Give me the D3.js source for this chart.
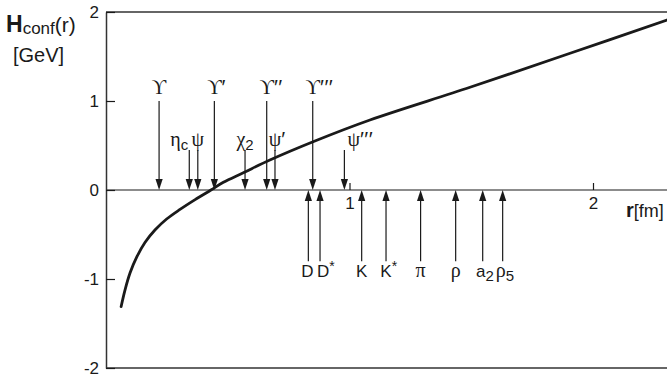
<!DOCTYPE html>
<html>
<head>
<meta charset="utf-8">
<script src="https://cdn.jsdelivr.net/npm/d3@7"></script>
<style>
  html, body { margin: 0; padding: 0; background: #fff; }
  svg { display: block; }
</style>
</head>
<body>
<div id="chart"></div>
<script>
// Confining potential H_conf(r) with hadron radii marked along the r axis.

// Potential curve, r in fm, H in GeV
const curveR = [0.062, 0.078, 0.099, 0.126, 0.160, 0.201, 0.249, 0.304, 0.366, 0.431,
                0.482, 0.564, 0.673, 0.858, 1.084, 1.495, 1.906, 2.304];
const curveH = [-1.311, -1.124, -0.93, -0.755, -0.59, -0.45, -0.326, -0.218, -0.108, 0.0,
                0.087, 0.194, 0.337, 0.551, 0.787, 1.154, 1.536, 1.910];

// Heavy quarkonia (arrows from above), radius in fm
const quarkonia  = ["ϒ", "η_c", "ψ", "ϒ′", "χ_2", "ϒ′′", "ψ′", "ϒ′′′", "ψ′′′"];
const quarkoniaR = [0.218, 0.342, 0.377, 0.445, 0.571, 0.660, 0.694, 0.849, 0.979];

// Open-flavour and light mesons (arrows from below), radius in fm
const mesons  = ["D", "D^*", "K", "K^*", "π", "ρ", "a_2", "ρ_5"];
const mesonsR = [0.831, 0.879, 1.050, 1.150, 1.292, 1.436, 1.547, 1.629];

const yTicks = [-2, -1, 0, 1, 2];
const xTicks = [1, 2];

const W = 667, H = 381;
const ink = "#1a1a1a";
const sans = "'Liberation Sans', Arial, sans-serif";
const serif = "'Liberation Serif', 'DejaVu Serif', serif";

const svg = d3.select("#chart").append("svg")
  .attr("width", W).attr("height", H)
  .style("background", "#fff");

const x = d3.scaleLinear().domain([0, 2]).range([106, 593]);
const y = d3.scaleLinear().domain([-2, 2]).range([368, 12]);
const x0 = x(0), y0 = y(0);

// frame: top and bottom rules run to the page edge
svg.append("g").selectAll("line").data([2, -2]).join("line")
  .attr("x1", x0).attr("x2", W)
  .attr("y1", d => y(d)).attr("y2", d => y(d))
  .attr("stroke", "#333").attr("stroke-width", 1.5);

// zero line
svg.append("line")
  .attr("x1", x0).attr("x2", W).attr("y1", y0).attr("y2", y0)
  .attr("stroke", ink).attr("stroke-width", 1.1);

// left axis with inward ticks
const yAxis = svg.append("g")
  .attr("transform", `translate(${x0},0)`)
  .call(d3.axisLeft(y).tickValues(yTicks).tickSizeInner(-9).tickSizeOuter(0)
        .tickPadding(7).tickFormat(d => String(d)));
yAxis.select(".domain").attr("stroke", "#333").attr("stroke-width", 1.5);
yAxis.selectAll(".tick line").attr("stroke", ink).attr("stroke-width", 1.2);
yAxis.selectAll(".tick text")
  .attr("fill", ink).style("font-family", sans).style("font-size", "17px");

// r axis ticks on the zero line
const xAxis = svg.append("g")
  .attr("transform", `translate(0,${y0})`)
  .call(d3.axisBottom(x).tickValues(xTicks).tickSizeInner(-7).tickSizeOuter(0)
        .tickPadding(7).tickFormat(d => String(d)));
xAxis.select(".domain").remove();
xAxis.selectAll(".tick line").attr("stroke", ink).attr("stroke-width", 1.2);
xAxis.selectAll(".tick text")
  .attr("fill", ink).style("font-family", sans).style("font-size", "17px");

// axis titles
const yt = svg.append("text").attr("x", 6).attr("y", 32).attr("fill", ink)
  .style("font-family", sans);
yt.append("tspan").text("H").style("font-weight", "bold").style("font-size", "23px");
yt.append("tspan").text("conf").style("font-size", "17px").attr("dy", 2);
yt.append("tspan").text("(r)").style("font-size", "21px").attr("dy", -2);

svg.append("text").attr("x", 13).attr("y", 62).attr("fill", ink)
  .style("font-family", sans).style("font-size", "20px").text("[GeV]");

const xt = svg.append("text").attr("x", 626).attr("y", 217).attr("fill", ink)
  .style("font-family", sans).style("font-size", "18px");
xt.append("tspan").text("r").style("font-weight", "bold").style("font-size", "20px");
xt.append("tspan").text("[fm]");

// potential curve
svg.append("clipPath").attr("id", "plot-clip")
  .append("rect").attr("x", x0).attr("y", y(2)).attr("width", W - x0).attr("height", y(-2) - y(2));

svg.append("path")
  .datum(curveR.map((r, i) => [r, curveH[i]]))
  .attr("clip-path", "url(#plot-clip)")
  .attr("fill", "none").attr("stroke", ink).attr("stroke-width", 2.8)
  .attr("stroke-linecap", "round")
  .attr("d", d3.line().x(d => x(d[0])).y(d => y(d[1])).curve(d3.curveCatmullRom.alpha(0.5)));

// arrows
const headLen = 11, headHalf = 3.6;
function arrow(g, xr, fromH, down) {
  const ax = x(xr), ys = y(fromH);
  const base = down ? y0 - headLen : y0 + headLen;
  g.append("line").attr("x1", ax).attr("x2", ax).attr("y1", ys).attr("y2", base)
    .attr("stroke", ink).attr("stroke-width", 1.2);
  g.append("path")
    .attr("d", `M${ax - headHalf},${base}L${ax + headHalf},${base}L${ax},${y0}Z`)
    .attr("fill", ink);
}

// labels: main glyph, primes, then optional sub/superscript
const isGreek = c => /[\u0370-\u03FF]/.test(c);
function label(g, str, ax, baseline, align, shift) {
  const m = str.match(/^([^_^]+)(?:([_^])(.+))?$/);
  const main = m[1][0], primes = m[1].slice(1), mark = m[2], extra = m[3];
  const t = g.append("text").attr("y", baseline).attr("fill", ink);
  t.append("tspan").text(main)
    .style("font-family", isGreek(main) ? serif : sans)
    .style("font-size", isGreek(main) ? "20px" : "17px");
  if (primes) {
    t.append("tspan").text(primes)
      .style("font-family", sans).style("font-size", "21px")
      .style("letter-spacing", "0.5px");
  }
  if (mark === "_") {
    t.append("tspan").text(extra).attr("dy", 4)
      .style("font-family", sans).style("font-size", "15px");
  } else if (mark === "^") {
    t.append("tspan").text(extra).attr("dy", -6)
      .style("font-family", sans).style("font-size", "14px");
  }
  const node = t.node();
  const total = node.getComputedTextLength();
  const mainW = node.getSubStringLength(0, 1);
  let tx;
  if (align === "end") tx = ax - 1 - total;
  else if (align === "middle") tx = ax - total / 2;
  else if (align === "start") tx = ax + 3;
  else tx = ax - mainW / 2;
  t.attr("x", tx + (shift || 0));
}

const labelAlign = { "η_c": "end", "χ_2": "middle", "ψ′′′": "start" };
const labelShift = { "D": -1, "D^*": 3, "a_2": -2, "ρ_5": -2 };

const upperGroup = svg.append("g");
quarkonia.forEach((name, i) => {
  const upsilon = name[0] === "ϒ";
  const startH = upsilon ? 1.0 : 0.45;
  arrow(upperGroup, quarkoniaR[i], startH, true);
  label(upperGroup, name, x(quarkoniaR[i]), upsilon ? 94 : 146, labelAlign[name] || "glyph", labelShift[name]);
});

const lowerGroup = svg.append("g");
mesons.forEach((name, i) => {
  arrow(lowerGroup, mesonsR[i], -0.8, false);
  label(lowerGroup, name, x(mesonsR[i]), 277, "glyph", labelShift[name]);
});
</script>
</body>
</html>
